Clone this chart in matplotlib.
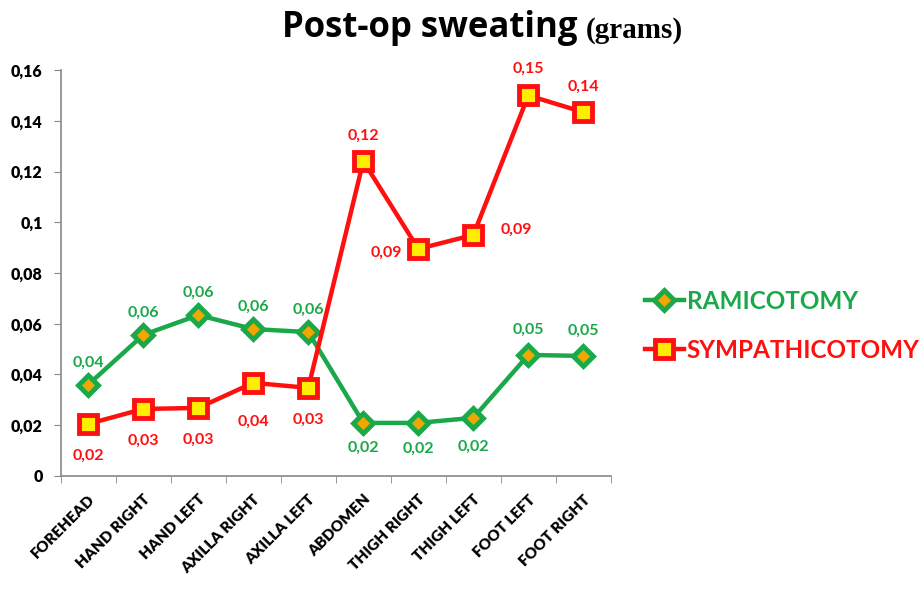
import matplotlib
matplotlib.use("Agg")
import matplotlib.pyplot as plt
import numpy as np

categories = ["FOREHEAD", "HAND RIGHT", "HAND LEFT", "AXILLA RIGHT", "AXILLA LEFT",
              "ABDOMEN", "THIGH RIGHT", "THIGH LEFT", "FOOT LEFT", "FOOT RIGHT"]
ramicotomy = [0.036, 0.0556, 0.0634, 0.0579, 0.0567, 0.0209, 0.0209, 0.0229, 0.0477, 0.0473]
sympathicotomy = [0.0205, 0.0264, 0.0268, 0.0367, 0.0347, 0.1241, 0.0895, 0.095, 0.150, 0.1434]
ram_labels = ["0,04", "0,06", "0,06", "0,06", "0,06", "0,02", "0,02", "0,02", "0,05", "0,05"]
sym_labels = ["0,02", "0,03", "0,03", "0,04", "0,03", "0,12", "0,09", "0,09", "0,15", "0,14"]
yticks = [0, 0.02, 0.04, 0.06, 0.08, 0.1, 0.12, 0.14, 0.16]
ytick_labels = ["0", "0,02", "0,04", "0,06", "0,08", "0,1", "0,12", "0,14", "0,16"]

GREEN = "#1aa84a"
RED = "#ff1010"
FONT = ["Lato", "DejaVu Sans"]

fig = plt.figure(figsize=(9.2, 5.89), dpi=100)
ax = fig.add_axes([0.066, 0.192, 0.598, 0.689])
x = np.arange(len(categories))

ax.plot(x, ramicotomy, color=GREEN, lw=3.2, marker="D", ms=10, mfc="#f0a800",
        mec=GREEN, mew=3.5, label="RAMICOTOMY", zorder=3)
ax.plot(x, sympathicotomy, color=RED, lw=3.2, marker="s", ms=13, mfc="#ffee00",
        mec=RED, mew=3.5, label="SYMPATHICOTOMY", zorder=4)

# label offsets in points (dx, dy)
ram_off = [(0, 16), (0, 16), (0, 16), (0, 16), (0, 16), (0, -18), (0, -19), (0, -21), (0, 18), (0, 18)]
sym_off = [(0, -23), (0, -23), (0, -23), (0, -28), (0, -23), (0, 18), (-23, -3), (31, 4), (0, 19), (0, 18)]
for i in range(len(categories)):
    ax.annotate(ram_labels[i], (x[i], ramicotomy[i]), xytext=ram_off[i], textcoords="offset points",
                ha="center", va="center", color=GREEN, fontsize=11.5, fontweight="bold", family=FONT)
    ax.annotate(sym_labels[i], (x[i], sympathicotomy[i]), xytext=sym_off[i], textcoords="offset points",
                ha="center", va="center", color=RED, fontsize=11.5, fontweight="bold", family=FONT)

ax.set_xlim(-0.5, len(categories) - 0.5)
ax.set_ylim(0, 0.16)
ax.set_yticks(yticks)
ax.set_yticklabels(ytick_labels, fontsize=11.5, fontweight="heavy", family=FONT)
ax.set_xticks(x)
ax.set_xticklabels(categories, rotation=45, ha="right", rotation_mode="anchor",
                   fontsize=11, fontweight="heavy", family=FONT)
ax.set_xticks(np.arange(-0.5, len(categories) + 0.5, 1), minor=True)
ax.tick_params(axis="x", which="major", length=0, pad=12)
ax.tick_params(axis="x", which="minor", length=5, color="#888888", direction="out")
ax.tick_params(axis="y", length=5, color="#888888", direction="out", pad=8)
for s in ["top", "right"]:
    ax.spines[s].set_visible(False)
for s in ["left", "bottom"]:
    ax.spines[s].set_color("#888888")
    ax.spines[s].set_linewidth(1.2)

leg = ax.legend(loc="center left", bbox_to_anchor=(1.062, 0.37), frameon=False,
                prop={"family": FONT, "weight": "bold", "size": 17.5},
                handlelength=1.6, handletextpad=0.12, labelspacing=1.05,
                borderpad=0, borderaxespad=0)
for text, c in zip(leg.get_texts(), [GREEN, RED]):
    text.set_color(c)

fig.text(0.637, 0.952, "Post-op sweating ", ha="right", va="center", fontsize=25,
         fontweight="bold", family=["Open Sans", "DejaVu Sans"])
fig.text(0.637, 0.948, "(grams)", ha="left", va="center", fontsize=21,
         fontweight="bold", family=["Liberation Serif", "DejaVu Serif"])

fig.savefig("out.png", dpi=100)
